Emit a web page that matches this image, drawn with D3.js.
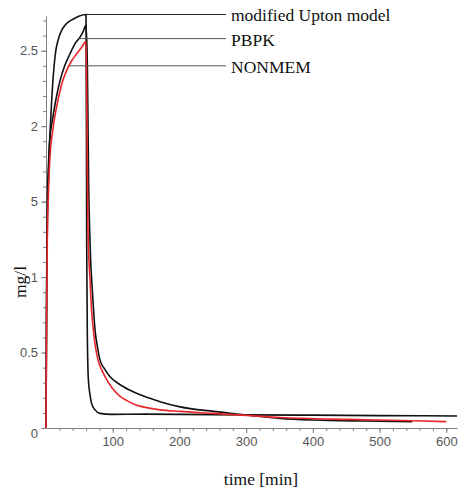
<!DOCTYPE html>
<html>
<head>
<meta charset="utf-8">
<script src="https://cdn.jsdelivr.net/npm/d3@7"></script>
<style>
  body { margin: 0; background: #fff; }
</style>
</head>
<body>
<div id="chart"></div>
<script>
var width = 459,
  height = 488;

// time [min] and mg/l
var uptonTime = [0, 1, 2, 4, 6, 8.5, 13.5, 21, 31, 41, 50, 60, 61, 62, 63.5, 66, 68.5, 73.5, 81, 98, 150, 200, 300, 400, 500, 616];
var uptonConc = [0, 1.0, 1.5, 1.78, 1.95, 2.17, 2.46, 2.61, 2.68, 2.71, 2.73, 2.74, 1.2, 0.6, 0.32, 0.22, 0.16, 0.12, 0.097, 0.09, 0.092, 0.09, 0.087, 0.085, 0.082, 0.08];

var pbpkTime = [0, 1, 2, 4, 5.5, 10, 15, 21, 28, 36, 44, 51, 56, 60, 62, 63, 64, 65.5, 67, 68.5, 71, 73.5, 77, 81, 88, 96, 110, 126, 141, 156, 171, 201, 251, 301, 351, 401, 476, 549];
var pbpkConc = [0, 0.9, 1.35, 1.7, 1.9, 2.05, 2.18, 2.3, 2.4, 2.48, 2.55, 2.59, 2.63, 2.67, 2.4, 2.0, 1.6, 1.3, 1.1, 0.98, 0.8, 0.65, 0.54, 0.45, 0.39, 0.34, 0.29, 0.25, 0.22, 0.197, 0.174, 0.14, 0.11, 0.086, 0.064, 0.053, 0.046, 0.042];

var nonmemTime = [0, 1, 2, 4, 6, 10, 16, 23, 31, 38, 46, 53, 60, 61, 62, 63, 64.5, 66, 68, 71, 74, 78, 84, 91, 100, 111, 122, 136, 151, 171, 201, 251, 351, 451, 551, 600];
var nonmemConc = [0, 0.8, 1.25, 1.6, 1.8, 1.97, 2.13, 2.27, 2.37, 2.43, 2.48, 2.52, 2.56, 2.2, 1.7, 1.3, 1.1, 0.98, 0.8, 0.65, 0.54, 0.45, 0.38, 0.32, 0.26, 0.21, 0.18, 0.15, 0.135, 0.12, 0.11, 0.097, 0.07, 0.057, 0.048, 0.042];

var seriesNames = ["modified Upton model", "PBPK", "NONMEM"];
var legendAnchorTime = [60, 49, 35];
var legendAnchorConc = [2.74, 2.58, 2.4];

var xMajorTicks = [100, 200, 300, 400, 500, 600];
var yMajorTicks = [0, 0.5, 1, 1.5, 2, 2.5];
var yTickLabels = ["0", "0.5", "1", "5", "2", "2.5"];

var svg = d3
  .select("#chart")
  .append("svg")
  .attr("width", width)
  .attr("height", height)
  .style("background", "#fff");

var x = d3.scaleLinear().domain([0, 616]).range([46, 457]);
var y = d3.scaleLinear().domain([0, 2.73]).range([428, 16]);

var axisColor = "#808080";
var labelFont = "'Liberation Sans', Arial, sans-serif";
var serifFont = "'Liberation Serif', 'Times New Roman', serif";

// minor ticks
svg
  .append("g")
  .attr("transform", "translate(0,428)")
  .call(d3.axisBottom(x).tickValues(d3.range(20, 616, 20)).tickSize(3).tickFormat(""))
  .call((g) => g.select(".domain").remove());
svg
  .append("g")
  .attr("transform", "translate(46,0)")
  .call(d3.axisLeft(y).tickValues(d3.range(0.1, 2.71, 0.1)).tickSize(3).tickFormat(""))
  .call((g) => g.select(".domain").remove());

// major axes
var xAxis = svg
  .append("g")
  .attr("transform", "translate(0,428)")
  .call(d3.axisBottom(x).tickValues(xMajorTicks).tickSize(5).tickSizeOuter(0).tickPadding(4));
var yAxis = svg
  .append("g")
  .attr("transform", "translate(46,0)")
  .call(
    d3
      .axisLeft(y)
      .tickValues(yMajorTicks)
      .tickSize(5)
      .tickSizeOuter(0)
      .tickPadding(3)
      .tickFormat((d, i) => yTickLabels[i])
  );

svg.selectAll(".tick line").attr("stroke", axisColor);
svg.selectAll(".domain").attr("stroke", axisColor);
svg
  .selectAll(".tick text")
  .attr("fill", "#555")
  .style("font-family", labelFont)
  .style("font-size", "13px");
yAxis
  .selectAll(".tick text")
  .filter((d) => d === 0)
  .attr("dy", "0.72em");

var line = d3
  .line()
  .x((d) => x(d[0]))
  .y((d) => y(d[1]))
  .curve(d3.curveMonotoneX);

var series = [
  { name: seriesNames[0], pts: d3.zip(uptonTime, uptonConc), color: "#111" },
  { name: seriesNames[1], pts: d3.zip(pbpkTime, pbpkConc), color: "#111" },
  { name: seriesNames[2], pts: d3.zip(nonmemTime, nonmemConc), color: "#e8262a" },
];

svg
  .append("g")
  .selectAll("path")
  .data(series)
  .enter()
  .append("path")
  .attr("fill", "none")
  .attr("stroke", (d) => d.color)
  .attr("stroke-width", 1.6)
  .attr("d", (d) => line(d.pts));

// legend leader lines
var legend = svg
  .append("g")
  .selectAll("g")
  .data(seriesNames)
  .enter()
  .append("g");
legend
  .append("line")
  .attr("x1", (d, i) => x(legendAnchorTime[i]))
  .attr("x2", 226)
  .attr("y1", (d, i) => y(legendAnchorConc[i]))
  .attr("y2", (d, i) => y(legendAnchorConc[i]))
  .attr("stroke", (d, i) => (i == 0 ? "#222" : "#555"))
  .attr("stroke-width", 1);
legend
  .append("text")
  .attr("x", 231)
  .attr("y", (d, i) => y(legendAnchorConc[i]) + 7)
  .style("font-family", serifFont)
  .style("font-size", "17.5px")
  .attr("fill", "#111")
  .text((d) => d);

svg
  .append("text")
  .attr("transform", "translate(26,282)rotate(-90)")
  .attr("text-anchor", "middle")
  .style("font-family", serifFont)
  .style("font-size", "17.5px")
  .attr("fill", "#111")
  .text("mg/l");

svg
  .append("text")
  .attr("x", 261)
  .attr("y", 485)
  .attr("text-anchor", "middle")
  .style("font-family", serifFont)
  .style("font-size", "17.5px")
  .attr("fill", "#111")
  .text("time [min]");
</script>
</body>
</html>
